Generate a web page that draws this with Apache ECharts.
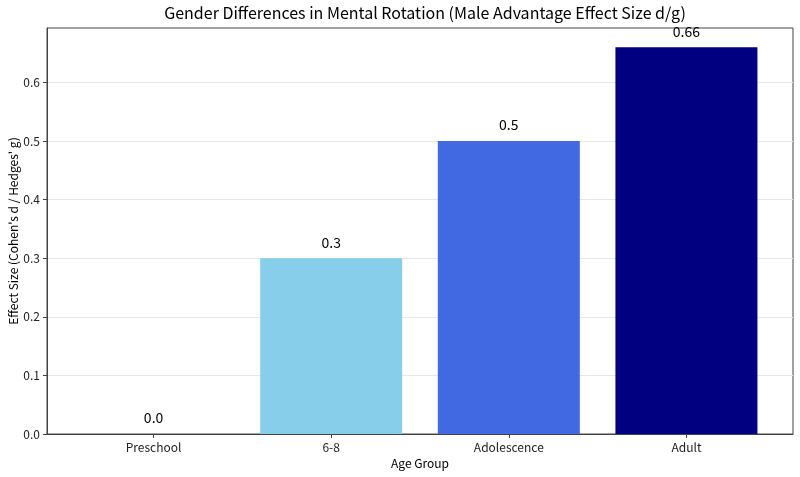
<!DOCTYPE html>
<html>
<head>
<meta charset="utf-8">
<script src="https://cdn.jsdelivr.net/npm/echarts@6/dist/echarts.min.js"></script>
<style>
  html, body { margin: 0; padding: 0; background: #fff; }
  #chart { width: 800px; height: 477px; }
</style>
</head>
<body>
<div id="chart"></div>
<script>
// data
const categories = ['Preschool', '6-8', 'Adolescence', 'Adult'];
const effectSizes = [0.0, 0.3, 0.5, 0.66];
const valueLabels = ['0.0', '0.3', '0.5', '0.66'];
const barColors = ['#add8e6', '#87ceeb', '#4169e1', '#000080'];
const yTicks = [0, 0.1, 0.2, 0.3, 0.4, 0.5, 0.6];

const FONT = 'Noto Sans CJK SC';
const chart = echarts.init(document.getElementById('chart'));

const positions = categories.map((c, i) => i);

const option = {
    backgroundColor: '#fff',
    textStyle: { fontFamily: FONT },
    title: {
        text: 'Gender Differences in Mental Rotation (Male Advantage Effect Size d/g)',
        left: 420,
        textAlign: 'center',
        top: 0,
        textStyle: { fontFamily: FONT, fontSize: 16, fontWeight: 'normal', color: '#000' }
    },
    grid: {
        left: 47, right: 7, top: 28, bottom: 43,
        outerBoundsMode: 'none',
        containLabel: false,
        show: true,
        borderColor: '#444',
        borderWidth: 1
    },
    xAxis: {
        type: 'value',
        min: -0.6,
        max: 3.6,
        name: 'Age Group',
        nameLocation: 'middle',
        nameGap: 23,
        nameMoveOverlap: false,
        nameTextStyle: { fontSize: 12, color: '#000' },
        axisLine: { show: true, onZero: false, lineStyle: { color: '#444' } },
        axisTick: { show: true, customValues: positions, length: 4, lineStyle: { color: '#444' } },
        axisLabel: {
            customValues: positions,
            formatter: v => categories[Math.round(v)],
            fontSize: 12, color: '#222', margin: 7
        },
        splitLine: { show: false }
    },
    yAxis: {
        type: 'value',
        min: 0,
        max: 0.693,
        interval: 0.1,
        name: "Effect Size (Cohen's d / Hedges' g)",
        nameLocation: 'middle',
        nameGap: 28,
        nameMoveOverlap: false,
        nameTextStyle: { fontSize: 12, color: '#000' },
        axisLine: { show: true, onZero: false, lineStyle: { color: '#444' } },
        axisTick: { show: true, customValues: yTicks, length: 4, lineStyle: { color: '#444' } },
        axisLabel: {
            customValues: yTicks,
            formatter: v => v.toFixed(1),
            fontSize: 12, color: '#222', margin: 7
        },
        splitLine: { show: true, lineStyle: { color: '#e6e6e6', width: 1 } }
    },
    series: [
        {
            type: 'bar',
            barWidth: 142,
            data: effectSizes.map((v, i) => ({
                value: [i, v],
                itemStyle: { color: barColors[i] }
            })),
            label: {
                show: true,
                position: 'top',
                distance: 9,
                fontSize: 14,
                color: '#000',
                formatter: p => valueLabels[p.dataIndex]
            }
        }
    ]
};

chart.setOption(option);
</script>
</body>
</html>
